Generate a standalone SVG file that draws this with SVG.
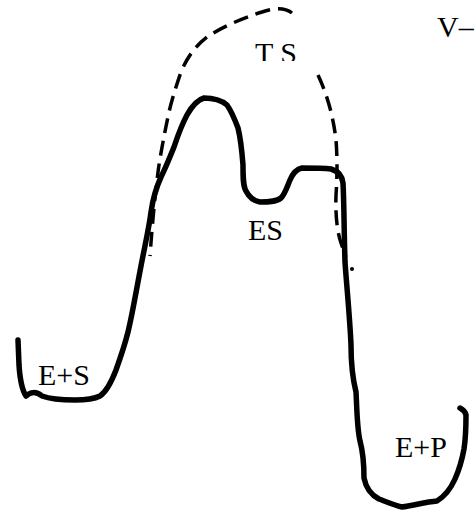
<svg xmlns="http://www.w3.org/2000/svg" width="475" height="510" viewBox="0 0 475 510">
<style>
.lbl{font-family:"Liberation Serif","Times New Roman",serif;font-size:30px;fill:#000}
.solid{fill:none;stroke:#000;stroke-width:5.5;stroke-linecap:round;stroke-linejoin:round}
.dash{fill:none;stroke:#000;stroke-width:3.5;stroke-dasharray:15 8}
</style>
<defs>
<clipPath id="tsclip"><rect x="240" y="30" width="80" height="31"/></clipPath>
</defs>
<rect width="475" height="510" fill="#fff"/>
<g id="connectors">
<path id="ts-curve-left" class="dash" d="M292,13 Q282,5 262,12 Q228,23 207,37 Q190,50 181,72 Q173,95 169,112 Q163,140 159,165 Q154,200 150,256"/>
<path id="ts-curve-right" class="dash" d="M318,75 Q332,105 336,140 Q338,165 336,195 Q335,225 341,243 L346,257" stroke-dasharray="15 8 15 8 15 8 14 9 4 7 3"/>
<circle cx="352" cy="269" r="2" fill="#000"/>
<path id="energy-curve" class="solid" d="M18,340 L19,365 C20,380 22,390 26,396 C30,392 36,391 42,396 C50,399 62,400 75,400 C85,400 94,399 100,396 C106,392 111,383 116,370 C121,356 125,344 128,332 C132,316 136,292 141,266 C145,245 149,228 151,212 C153,198 156,188 161,177 C166,167 170,157 174,147 C178,135 181,126 187,115 C192,106 197,100 204,98 C213,98 221,100 227,105 C232,112 235,120 238,128 C241,140 242,152 243,165 C243,178 243,186 246,191 C249,197 254,201 260,202 C268,202 276,202 281,198 C285,194 287,187 290,180 C293,173 297,169 302,168 C312,168 323,168 331,169 C338,171 342,175 343,183 C344,200 344,230 345,262 C347,290 350,320 351,345 C351,365 353,380 356,392 C357,410 357,428 360,441 C363,452 364,465 364,478 C366,488 371,495 379,499 C387,502 394,505 402,507 C412,506 425,502 437,501 C445,496 451,488 455,479 C459,470 462,460 464,449 C466,436 466,424 466,415 C465,411 462,409 460,408"/>
</g>
<g id="node-TS"><text class="lbl" x="255" y="63" clip-path="url(#tsclip)">T S</text></g>
<g id="node-ES"><text class="lbl" x="248" y="240">ES</text></g>
<g id="node-ES-start"><text class="lbl" x="38" y="385">E+S</text></g>
<g id="node-EP"><text class="lbl" x="395" y="457">E+P</text></g>
<g id="node-V"><text class="lbl" x="437" y="37">V–</text></g>
</svg>
